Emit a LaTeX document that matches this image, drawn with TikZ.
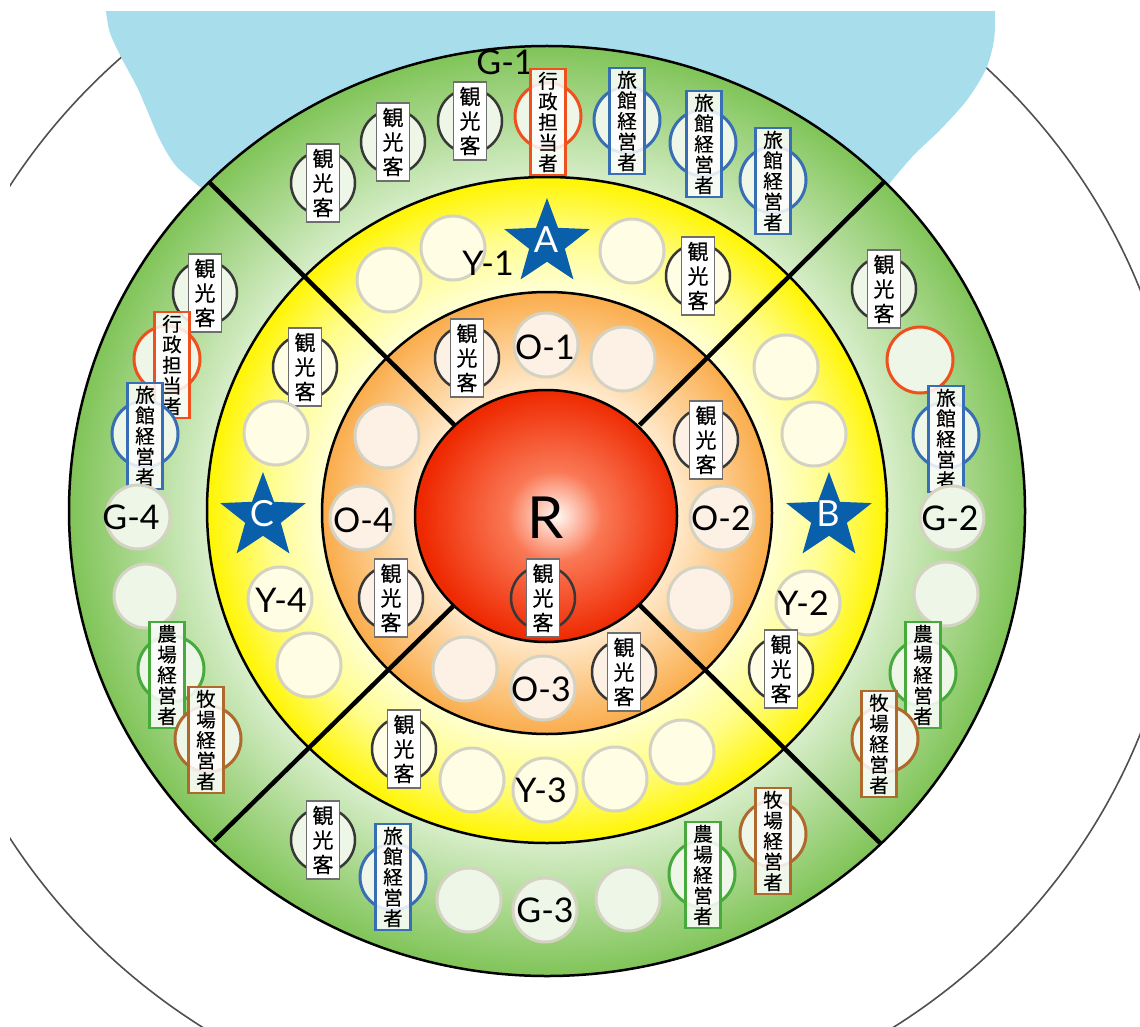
\documentclass[tikz,border=0pt]{standalone}
\usepackage{fontspec}
\setmainfont{Lato}
\newfontfamily\jpfont[FakeBold=0.4]{Noto Sans CJK JP}
\usetikzlibrary{shapes.geometric}

\definecolor{cBlob}{RGB}{168,222,235}
\definecolor{cThin}{RGB}{80,80,80}
\definecolor{gpale}{RGB}{216,238,202}
\definecolor{gdark}{RGB}{128,196,88}
\definecolor{ypale}{RGB}{255,255,212}
\definecolor{ymid}{RGB}{255,253,140}
\definecolor{ybright}{RGB}{255,245,0}
\definecolor{opale}{RGB}{255,232,200}
\definecolor{odark}{RGB}{250,172,75}
\definecolor{rcenter}{RGB}{255,250,245}
\definecolor{rmid}{RGB}{250,120,85}
\definecolor{redge}{RGB}{238,40,0}
\definecolor{cSeatG}{RGB}{237,246,231}
\definecolor{cSeatY}{RGB}{255,253,228}
\definecolor{cSeatO}{RGB}{253,241,230}
\definecolor{cSeatLine}{RGB}{212,210,194}
\definecolor{cKanko}{RGB}{55,55,55}
\definecolor{cKbox}{RGB}{110,110,110}
\definecolor{cGyosei}{RGB}{238,80,30}
\definecolor{cRyokan}{RGB}{55,110,180}
\definecolor{cNoujou}{RGB}{70,170,60}
\definecolor{cBokujou}{RGB}{175,105,45}
\definecolor{cStar}{RGB}{10,95,170}

\pgfdeclareradialshading{greenring}{\pgfpointorigin}{color(0bp)=(gpale); color(17.8bp)=(gpale); color(25bp)=(gdark); color(50bp)=(gdark)}
\pgfdeclareradialshading{yellowring}{\pgfpointorigin}{color(0bp)=(ypale); color(16.5bp)=(ypale); color(20.5bp)=(ymid); color(25bp)=(ybright); color(50bp)=(ybright)}
\pgfdeclareradialshading{orangering}{\pgfpointorigin}{color(0bp)=(opale); color(14.6bp)=(opale); color(25bp)=(odark); color(50bp)=(odark)}
\pgfdeclareradialshading{redball}{\pgfpoint{2bp}{0bp}}{color(0bp)=(rcenter); color(9bp)=(rmid); color(25bp)=(redge); color(50bp)=(redge)}

\tikzset{
  ringline/.style={draw=black, line width=2.5pt},
  divider/.style={draw=black, line width=4.5pt},
  seat/.style={circle, inner sep=0pt, minimum size=64pt, draw=cSeatLine, line width=3pt},
  kcirc/.style={circle, inner sep=0pt, minimum size=64pt, draw=cKanko, line width=2.5pt},
  pcirc/.style={circle, inner sep=0pt, minimum size=66pt, line width=3pt, fill=cSeatG},
  kbox/.style={draw=cKbox, line width=1.8pt, fill=white, inner sep=0pt,
    minimum width=33pt, minimum height=78pt, align=center,
    font=\jpfont\fontsize{21}{24.5}\selectfont},
  pbox/.style={line width=2.6pt, fill=white, fill opacity=0.85, text opacity=1,
    inner sep=0pt, minimum width=35pt, minimum height=106pt, align=center,
    font=\jpfont\fontsize{19.5}{20.6}\selectfont},
  lbl/.style={inner sep=0pt, font=\fontsize{34}{34}\selectfont},
  starshape/.style={star, star points=5, star point ratio=2.4, minimum size=90pt,
    inner sep=0pt, fill=cStar},
  starlbl/.style={inner sep=0pt, text=white, font=\fontsize{36}{36}\selectfont}
}

\newcommand{\mkSeat}[4]{\node[seat, fill=#4] (#1) at (#2,#3) {};}
\newcommand{\mkKanko}[4]{\node[kcirc, fill=#4] (#1c) at (#2,#3) {};
  \node[kbox] (#1b) at (#2,#3) {観\\光\\客};}
\newcommand{\mkPerson}[7]{\node[pcirc, draw=#6] (#1c) at (#2,#3) {};
  \node[pbox, draw=#6] (#1b) at (#4,#5) {#7};}

\begin{document}
\begin{tikzpicture}[x=1pt, y=-1pt]
\useasboundingbox (0,0) rectangle (1140,1027);

% background: thin circle and light-blue area
\begin{scope}
  \clip (10,12) rectangle (1140,1027);
  \draw[cThin, line width=1.6pt] (548,512) ellipse [x radius=635, y radius=614];
  \fill[cBlob] plot[smooth] coordinates {(105,0) (106,12) (110,33) (121,57) (137,87) (147,110) (160,140) (177,167) (210,195)}
     -- (547,420)
     -- plot[smooth] coordinates {(880,195) (912,157) (940,130) (967,100) (986,69) (994,40) (995,12) (995,0)}
     -- cycle;
\end{scope}

% rings
\shade[shading=greenring] (547,511) ellipse [x radius=478, y radius=465];
\draw[ringline] (547,511) ellipse [x radius=478, y radius=465];
\shade[shading=yellowring] (547,510) ellipse [x radius=340, y radius=333];
\draw[ringline] (547,510) ellipse [x radius=340, y radius=333];
\shade[shading=orangering] (547,513) ellipse [x radius=225, y radius=221];
\draw[ringline] (547,513) ellipse [x radius=225, y radius=221];
\shade[shading=redball] (546,516) ellipse [x radius=131, y radius=126];

% dividers
\draw[divider] (639.6,425) -- (885,181);
\draw[divider] (454.4,425) -- (209,182);
\draw[divider] (454.4,605) -- (214,841);
\draw[divider] (639.6,605) -- (880,843);
\draw[ringline] (546,516) ellipse [x radius=131, y radius=126];

% ---------- green ring ----------
% G-1
\node[lbl] (lG1) at (505,62) {G-1};
\mkKanko{gak1}{323}{183}{cSeatG}
\mkKanko{gak2}{393}{142}{cSeatG}
\mkKanko{gak3}{470}{121}{cSeatG}
\mkPerson{gag}{548}{116}{548}{122}{cGyosei}{行\\政\\担\\当\\者}
\mkPerson{gar1}{627}{120}{627}{121}{cRyokan}{旅\\館\\経\\営\\者}
\mkPerson{gar2}{703}{143}{704}{144}{cRyokan}{旅\\館\\経\\営\\者}
\mkPerson{gar3}{773}{180}{773}{181}{cRyokan}{旅\\館\\経\\営\\者}
% G-2
\mkKanko{gbk}{884}{289}{cSeatG}
\node[pcirc, draw=cGyosei] (gbe) at (920,360) {};
\mkPerson{gbr}{946}{435}{946}{439}{cRyokan}{旅\\館\\経\\営\\者}
\mkSeat{gbs1}{952}{518}{cSeatG}
\node[lbl] (lG2) at (950,518) {G-2};
\mkSeat{gbs2}{946}{594}{cSeatG}
\mkPerson{gbn}{923}{673}{923}{675}{cNoujou}{農\\場\\経\\営\\者}
\mkPerson{gbb}{885}{739}{879}{744}{cBokujou}{牧\\場\\経\\営\\者}
% G-3
\mkKanko{gck}{323}{840}{cSeatG}
\mkPerson{gcr}{393}{877}{393}{877}{cRyokan}{旅\\館\\経\\営\\者}
\mkSeat{gcs1}{469}{900}{cSeatG}
\mkSeat{gcs2}{545}{910}{cSeatG}
\node[lbl] (lG3) at (545,910) {G-3};
\mkSeat{gcs3}{628}{899}{cSeatG}
\mkPerson{gcn}{702}{874}{703}{875}{cNoujou}{農\\場\\経\\営\\者}
\mkPerson{gcb}{773}{834}{773}{841}{cBokujou}{牧\\場\\経\\営\\者}
% G-4
\mkKanko{gdk}{205}{293}{cSeatG}
\mkPerson{gdg}{167}{359}{172}{365}{cGyosei}{行\\政\\担\\当\\者}
\mkPerson{gdr}{145}{434}{145}{436}{cRyokan}{旅\\館\\経\\営\\者}
\mkSeat{gds1}{138}{517}{cSeatG}
\node[lbl] (lG4) at (131,517) {G-4};
\mkSeat{gds2}{146}{596}{cSeatG}
\mkPerson{gdn}{171}{669}{167}{675}{cNoujou}{農\\場\\経\\営\\者}
\mkPerson{gdb}{208}{739}{206}{740}{cBokujou}{牧\\場\\経\\営\\者}

% ---------- yellow ring ----------
% Y-1
\mkSeat{yas1}{389}{280}{cSeatY}
\mkSeat{yas2}{453}{248}{cSeatY}
\mkSeat{yas3}{632}{251}{cSeatY}
\mkKanko{yak}{698}{276}{cSeatY}
\node[lbl] (lY1) at (488,263) {Y-1};
\node[starshape] (starA) at (547,243) {};
\node[starlbl] (starAt) at (546,240) {A};
% Y-2
\mkSeat{ybs1}{786}{367}{cSeatY}
\mkSeat{ybs2}{814}{434}{cSeatY}
\node[starshape] (starB) at (829,517) {};
\node[starlbl] (starBt) at (828,514) {B};
\mkSeat{ybs3}{808}{603}{cSeatY}
\node[lbl] (lY2) at (803,603) {Y-2};
\mkKanko{ybk}{781}{669}{cSeatY}
% Y-3
\mkKanko{yck}{404}{749}{cSeatY}
\mkSeat{ycs1}{472}{780}{cSeatY}
\mkSeat{ycs2}{545}{790}{cSeatY}
\node[lbl] (lY3) at (541,790) {Y-3};
\mkSeat{ycs3}{615}{779}{cSeatY}
\mkSeat{ycs4}{682}{752}{cSeatY}
% Y-4
\mkKanko{ydk}{305}{367}{cSeatY}
\mkSeat{yds1}{276}{433}{cSeatY}
\node[starshape] (starC) at (263,517) {};
\node[starlbl] (starCt) at (262,514) {C};
\mkSeat{yds2}{280}{599}{cSeatY}
\node[lbl] (lY4) at (281,600) {Y-4};
\mkSeat{yds3}{309}{665}{cSeatY}

% ---------- orange ring ----------
% O-1
\mkKanko{oak}{467}{358}{cSeatO}
\mkSeat{oas1}{546}{345}{cSeatO}
\node[lbl] (lO1) at (545,347) {O-1};
\mkSeat{oas2}{623}{359}{cSeatO}
% O-2
\mkKanko{obk}{706}{440}{cSeatO}
\mkSeat{obs1}{722}{518}{cSeatO}
\node[lbl] (lO2) at (721,518) {O-2};
\mkSeat{obs2}{700}{599}{cSeatO}
% O-3
\mkSeat{ocs1}{465}{669}{cSeatO}
\mkSeat{ocs2}{543}{688}{cSeatO}
\node[lbl] (lO3) at (541,689) {O-3};
\mkKanko{ock}{624}{672}{cSeatO}
% O-4
\mkSeat{ods1}{387}{436}{cSeatO}
\mkSeat{ods2}{362}{518}{cSeatO}
\node[lbl] (lO4) at (363,520) {O-4};
\mkKanko{odk}{391}{598}{cSeatO}

% ---------- centre ----------
\node[inner sep=0pt, font=\fontsize{58}{58}\selectfont] (lR) at (546,518) {R};
\mkKanko{rk}{543}{598}{none}
\end{tikzpicture}
\end{document}
